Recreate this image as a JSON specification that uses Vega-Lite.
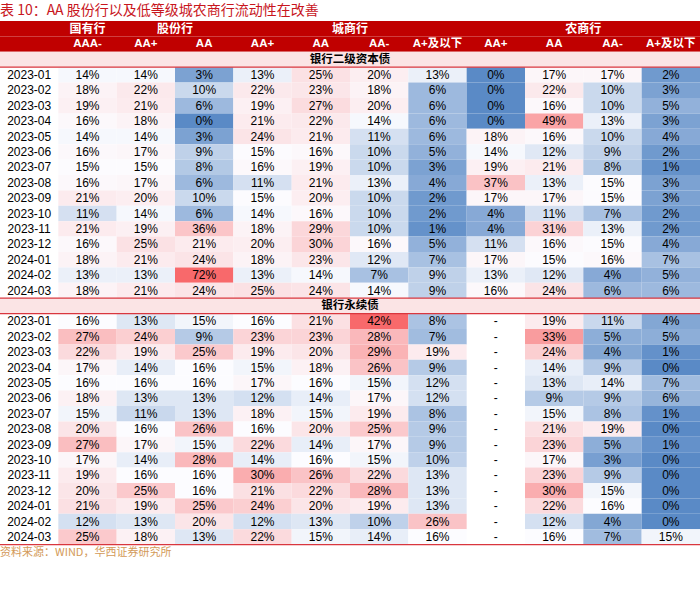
{
  "$schema": "https://vega.github.io/schema/vega-lite/v6.json",
  "width": 700,
  "height": 539,
  "autosize": "none",
  "padding": {"top": 21, "left": 0, "right": 0, "bottom": 33},
  "background": "white",
  "config": {"view": {"stroke": null}, "font": "Liberation Sans"},
  "title": {"text": "表 10：AA 股份行以及低等级城农商行流动性在改善", "anchor": "start", "color": "#c8161d", "font": "Noto Sans CJK SC", "fontSize": 14, "fontWeight": "normal", "offset": 3, "frame": "group"},
  "datasets": {
    "cells": [
      {"s": 1, "r": "a01", "d": "2023-01", "c1": 0.14, "c2": 0.14, "c3": 0.03, "c4": 0.13, "c5": 0.25, "c6": 0.20, "c7": 0.13, "c8": 0, "c9": 0.17, "c10": 0.17, "c11": 0.02},
      {"s": 1, "r": "a02", "d": "2023-02", "c1": 0.18, "c2": 0.22, "c3": 0.10, "c4": 0.22, "c5": 0.23, "c6": 0.18, "c7": 0.06, "c8": 0, "c9": 0.22, "c10": 0.10, "c11": 0.03},
      {"s": 1, "r": "a03", "d": "2023-03", "c1": 0.19, "c2": 0.21, "c3": 0.06, "c4": 0.19, "c5": 0.27, "c6": 0.20, "c7": 0.06, "c8": 0, "c9": 0.16, "c10": 0.10, "c11": 0.05},
      {"s": 1, "r": "a04", "d": "2023-04", "c1": 0.16, "c2": 0.18, "c3": 0, "c4": 0.21, "c5": 0.22, "c6": 0.14, "c7": 0.06, "c8": 0, "c9": 0.49, "c10": 0.13, "c11": 0.03},
      {"s": 1, "r": "a05", "d": "2023-05", "c1": 0.14, "c2": 0.14, "c3": 0.03, "c4": 0.24, "c5": 0.21, "c6": 0.11, "c7": 0.06, "c8": 0.18, "c9": 0.16, "c10": 0.10, "c11": 0.04},
      {"s": 1, "r": "a06", "d": "2023-06", "c1": 0.16, "c2": 0.17, "c3": 0.09, "c4": 0.15, "c5": 0.16, "c6": 0.10, "c7": 0.05, "c8": 0.14, "c9": 0.12, "c10": 0.09, "c11": 0.02},
      {"s": 1, "r": "a07", "d": "2023-07", "c1": 0.15, "c2": 0.15, "c3": 0.08, "c4": 0.16, "c5": 0.19, "c6": 0.10, "c7": 0.03, "c8": 0.19, "c9": 0.21, "c10": 0.08, "c11": 0.01},
      {"s": 1, "r": "a08", "d": "2023-08", "c1": 0.16, "c2": 0.17, "c3": 0.06, "c4": 0.11, "c5": 0.21, "c6": 0.13, "c7": 0.04, "c8": 0.37, "c9": 0.13, "c10": 0.15, "c11": 0.03},
      {"s": 1, "r": "a09", "d": "2023-09", "c1": 0.21, "c2": 0.20, "c3": 0.10, "c4": 0.15, "c5": 0.20, "c6": 0.10, "c7": 0.02, "c8": 0.17, "c9": 0.17, "c10": 0.15, "c11": 0.03},
      {"s": 1, "r": "a10", "d": "2023-10", "c1": 0.11, "c2": 0.14, "c3": 0.06, "c4": 0.14, "c5": 0.16, "c6": 0.10, "c7": 0.02, "c8": 0.04, "c9": 0.11, "c10": 0.07, "c11": 0.02},
      {"s": 1, "r": "a11", "d": "2023-11", "c1": 0.21, "c2": 0.19, "c3": 0.36, "c4": 0.18, "c5": 0.29, "c6": 0.10, "c7": 0.01, "c8": 0.04, "c9": 0.31, "c10": 0.13, "c11": 0.02},
      {"s": 1, "r": "a12", "d": "2023-12", "c1": 0.16, "c2": 0.25, "c3": 0.21, "c4": 0.20, "c5": 0.30, "c6": 0.16, "c7": 0.05, "c8": 0.11, "c9": 0.16, "c10": 0.15, "c11": 0.04},
      {"s": 1, "r": "a13", "d": "2024-01", "c1": 0.18, "c2": 0.21, "c3": 0.24, "c4": 0.18, "c5": 0.23, "c6": 0.12, "c7": 0.07, "c8": 0.17, "c9": 0.15, "c10": 0.16, "c11": 0.07},
      {"s": 1, "r": "a14", "d": "2024-02", "c1": 0.13, "c2": 0.13, "c3": 0.72, "c4": 0.13, "c5": 0.14, "c6": 0.07, "c7": 0.09, "c8": 0.13, "c9": 0.12, "c10": 0.04, "c11": 0.05},
      {"s": 1, "r": "a15", "d": "2024-03", "c1": 0.18, "c2": 0.21, "c3": 0.24, "c4": 0.25, "c5": 0.24, "c6": 0.14, "c7": 0.09, "c8": 0.16, "c9": 0.24, "c10": 0.06, "c11": 0.06},
      {"s": 2, "r": "b01", "d": "2023-01", "c1": 0.16, "c2": 0.13, "c3": 0.15, "c4": 0.16, "c5": 0.21, "c6": 0.42, "c7": 0.08, "c8": null, "c9": 0.19, "c10": 0.11, "c11": 0.04},
      {"s": 2, "r": "b02", "d": "2023-02", "c1": 0.27, "c2": 0.24, "c3": 0.09, "c4": 0.23, "c5": 0.23, "c6": 0.28, "c7": 0.07, "c8": null, "c9": 0.33, "c10": 0.05, "c11": 0.05},
      {"s": 2, "r": "b03", "d": "2023-03", "c1": 0.22, "c2": 0.19, "c3": 0.25, "c4": 0.19, "c5": 0.20, "c6": 0.29, "c7": 0.19, "c8": null, "c9": 0.24, "c10": 0.04, "c11": 0.01},
      {"s": 2, "r": "b04", "d": "2023-04", "c1": 0.17, "c2": 0.14, "c3": 0.16, "c4": 0.15, "c5": 0.18, "c6": 0.26, "c7": 0.09, "c8": null, "c9": 0.14, "c10": 0.09, "c11": 0},
      {"s": 2, "r": "b05", "d": "2023-05", "c1": 0.16, "c2": 0.16, "c3": 0.16, "c4": 0.17, "c5": 0.16, "c6": 0.15, "c7": 0.12, "c8": null, "c9": 0.13, "c10": 0.14, "c11": 0.07},
      {"s": 2, "r": "b06", "d": "2023-06", "c1": 0.18, "c2": 0.13, "c3": 0.13, "c4": 0.12, "c5": 0.14, "c6": 0.17, "c7": 0.12, "c8": null, "c9": 0.09, "c10": 0.09, "c11": 0.06},
      {"s": 2, "r": "b07", "d": "2023-07", "c1": 0.15, "c2": 0.11, "c3": 0.13, "c4": 0.18, "c5": 0.15, "c6": 0.19, "c7": 0.08, "c8": null, "c9": 0.15, "c10": 0.08, "c11": 0.01},
      {"s": 2, "r": "b08", "d": "2023-08", "c1": 0.20, "c2": 0.16, "c3": 0.26, "c4": 0.16, "c5": 0.20, "c6": 0.25, "c7": 0.09, "c8": null, "c9": 0.21, "c10": 0.19, "c11": 0},
      {"s": 2, "r": "b09", "d": "2023-09", "c1": 0.27, "c2": 0.17, "c3": 0.15, "c4": 0.22, "c5": 0.14, "c6": 0.17, "c7": 0.09, "c8": null, "c9": 0.23, "c10": 0.05, "c11": 0.01},
      {"s": 2, "r": "b10", "d": "2023-10", "c1": 0.17, "c2": 0.14, "c3": 0.28, "c4": 0.14, "c5": 0.16, "c6": 0.15, "c7": 0.10, "c8": null, "c9": 0.17, "c10": 0.03, "c11": 0},
      {"s": 2, "r": "b11", "d": "2023-11", "c1": 0.19, "c2": 0.16, "c3": 0.16, "c4": 0.30, "c5": 0.26, "c6": 0.22, "c7": 0.13, "c8": null, "c9": 0.23, "c10": 0.09, "c11": 0},
      {"s": 2, "r": "b12", "d": "2023-12", "c1": 0.20, "c2": 0.25, "c3": 0.16, "c4": 0.21, "c5": 0.22, "c6": 0.28, "c7": 0.13, "c8": null, "c9": 0.30, "c10": 0.15, "c11": 0},
      {"s": 2, "r": "b13", "d": "2024-01", "c1": 0.21, "c2": 0.19, "c3": 0.25, "c4": 0.24, "c5": 0.20, "c6": 0.19, "c7": 0.13, "c8": null, "c9": 0.22, "c10": 0.16, "c11": 0},
      {"s": 2, "r": "b14", "d": "2024-02", "c1": 0.12, "c2": 0.13, "c3": 0.20, "c4": 0.12, "c5": 0.13, "c6": 0.10, "c7": 0.26, "c8": null, "c9": 0.12, "c10": 0.04, "c11": 0},
      {"s": 2, "r": "b15", "d": "2024-03", "c1": 0.25, "c2": 0.18, "c3": 0.13, "c4": 0.22, "c5": 0.15, "c6": 0.14, "c7": 0.16, "c8": null, "c9": 0.16, "c10": 0.07, "c11": 0.15}
    ],
    "sub": [
      {"c": "c1", "t": "AAA-"}, {"c": "c2", "t": "AA+"}, {"c": "c3", "t": "AA"}, {"c": "c4", "t": "AA+"},
      {"c": "c5", "t": "AA"}, {"c": "c6", "t": "AA-"}, {"c": "c7", "t": "A+及以下"}, {"c": "c8", "t": "AA+"},
      {"c": "c9", "t": "AA"}, {"c": "c10", "t": "AA-"}, {"c": "c11", "t": "A+及以下"}
    ],
    "groupMid": [{"c": "c1", "t": "国有行"}],
    "groupEdge": [{"c": "c2", "t": "股份行"}, {"c": "c5", "t": "城商行"}, {"c": "c9", "t": "农商行"}],
    "sections": [{"r": "s1", "t": "银行二级资本债"}, {"r": "s2", "t": "银行永续债"}],
    "headRows": [{"r": "h1"}, {"r": "h2"}],
    "lines": [{"r": "a01"}, {"r": "s2"}, {"r": "b01"}, {"r": "src"}],
    "source": [{"t": "资料来源：WIND，华西证券研究所"}]
  },
  "layer": [
    {
      "data": {"name": "headRows"},
      "mark": {"type": "rect", "color": "#c00000"},
      "encoding": {
        "y": {"field": "r", "type": "nominal", "axis": null, "scale": {"domain": ["h1","h2","s1","a01","a02","a03","a04","a05","a06","a07","a08","a09","a10","a11","a12","a13","a14","a15","s2","b01","b02","b03","b04","b05","b06","b07","b08","b09","b10","b11","b12","b13","b14","b15","src"], "paddingInner": 0, "paddingOuter": 0}}
      }
    },
    {
      "data": {"name": "sections"},
      "mark": {"type": "rect", "color": "#fbe4e5"},
      "encoding": {
        "y": {"field": "r", "type": "nominal", "axis": null, "scale": {"domain": ["h1","h2","s1","a01","a02","a03","a04","a05","a06","a07","a08","a09","a10","a11","a12","a13","a14","a15","s2","b01","b02","b03","b04","b05","b06","b07","b08","b09","b10","b11","b12","b13","b14","b15","src"], "paddingInner": 0, "paddingOuter": 0}}
      }
    },
    {
      "data": {"name": "cells"},
      "transform": [
        {"filter": "datum.s == 1"},
        {"fold": ["c1","c2","c3","c4","c5","c6","c7","c8","c9","c10","c11"], "as": ["c", "v"]},
        {"filter": "datum.v != null"}
      ],
      "mark": {"type": "rect"},
      "encoding": {
        "x": {"field": "c", "type": "nominal", "axis": null, "scale": {"domain": ["c0","c1","c2","c3","c4","c5","c6","c7","c8","c9","c10","c11"], "paddingInner": 0, "paddingOuter": 0}},
        "y": {"field": "r", "type": "nominal", "axis": null, "scale": {"domain": ["h1","h2","s1","a01","a02","a03","a04","a05","a06","a07","a08","a09","a10","a11","a12","a13","a14","a15","s2","b01","b02","b03","b04","b05","b06","b07","b08","b09","b10","b11","b12","b13","b14","b15","src"], "paddingInner": 0, "paddingOuter": 0}},
        "color": {"field": "v", "type": "quantitative", "legend": null, "scale": {"type": "linear", "domain": [0, 0.145, 0.72], "range": ["#5A8AC6", "#FCFCFF", "#F8696B"], "interpolate": "rgb", "clamp": true}}
      }
    },
    {
      "data": {"name": "cells"},
      "transform": [
        {"filter": "datum.s == 2"},
        {"fold": ["c1","c2","c3","c4","c5","c6","c7","c8","c9","c10","c11"], "as": ["c", "v"]},
        {"filter": "datum.v != null"}
      ],
      "mark": {"type": "rect"},
      "encoding": {
        "x": {"field": "c", "type": "nominal", "axis": null, "scale": {"domain": ["c0","c1","c2","c3","c4","c5","c6","c7","c8","c9","c10","c11"], "paddingInner": 0, "paddingOuter": 0}},
        "y": {"field": "r", "type": "nominal", "axis": null, "scale": {"domain": ["h1","h2","s1","a01","a02","a03","a04","a05","a06","a07","a08","a09","a10","a11","a12","a13","a14","a15","s2","b01","b02","b03","b04","b05","b06","b07","b08","b09","b10","b11","b12","b13","b14","b15","src"], "paddingInner": 0, "paddingOuter": 0}},
        "fill": {"field": "v", "type": "quantitative", "legend": null, "scale": {"type": "linear", "domain": [0, 0.16, 0.42], "range": ["#5A8AC6", "#FCFCFF", "#F8696B"], "interpolate": "rgb", "clamp": true}}
      }
    },
    {
      "data": {"name": "cells"},
      "transform": [
        {"fold": ["c1","c2","c3","c4","c5","c6","c7","c8","c9","c10","c11"], "as": ["c", "v"]},
        {"filter": "datum.v != null"}
      ],
      "mark": {"type": "text", "fontSize": 12, "color": "#000000", "font": "Liberation Sans"},
      "encoding": {
        "x": {"field": "c", "type": "nominal", "axis": null, "scale": {"domain": ["c0","c1","c2","c3","c4","c5","c6","c7","c8","c9","c10","c11"], "paddingInner": 0, "paddingOuter": 0}},
        "y": {"field": "r", "type": "nominal", "axis": null, "scale": {"domain": ["h1","h2","s1","a01","a02","a03","a04","a05","a06","a07","a08","a09","a10","a11","a12","a13","a14","a15","s2","b01","b02","b03","b04","b05","b06","b07","b08","b09","b10","b11","b12","b13","b14","b15","src"], "paddingInner": 0, "paddingOuter": 0}},
        "text": {"field": "v", "type": "quantitative", "format": ".0%"}
      }
    },
    {
      "data": {"name": "cells"},
      "transform": [
        {"fold": ["c1","c2","c3","c4","c5","c6","c7","c8","c9","c10","c11"], "as": ["c", "v"]},
        {"filter": "datum.v == null"}
      ],
      "mark": {"type": "text", "fontSize": 12, "color": "#000000", "font": "Liberation Sans"},
      "encoding": {
        "x": {"field": "c", "type": "nominal", "axis": null, "scale": {"domain": ["c0","c1","c2","c3","c4","c5","c6","c7","c8","c9","c10","c11"], "paddingInner": 0, "paddingOuter": 0}},
        "y": {"field": "r", "type": "nominal", "axis": null, "scale": {"domain": ["h1","h2","s1","a01","a02","a03","a04","a05","a06","a07","a08","a09","a10","a11","a12","a13","a14","a15","s2","b01","b02","b03","b04","b05","b06","b07","b08","b09","b10","b11","b12","b13","b14","b15","src"], "paddingInner": 0, "paddingOuter": 0}},
        "text": {"value": "-"}
      }
    },
    {
      "data": {"name": "cells"},
      "mark": {"type": "text", "fontSize": 12, "color": "#000000", "font": "Liberation Sans"},
      "encoding": {
        "x": {"datum": "c0", "type": "nominal", "axis": null, "scale": {"domain": ["c0","c1","c2","c3","c4","c5","c6","c7","c8","c9","c10","c11"], "paddingInner": 0, "paddingOuter": 0}},
        "y": {"field": "r", "type": "nominal", "axis": null, "scale": {"domain": ["h1","h2","s1","a01","a02","a03","a04","a05","a06","a07","a08","a09","a10","a11","a12","a13","a14","a15","s2","b01","b02","b03","b04","b05","b06","b07","b08","b09","b10","b11","b12","b13","b14","b15","src"], "paddingInner": 0, "paddingOuter": 0}},
        "text": {"field": "d", "type": "nominal"}
      }
    },
    {
      "data": {"name": "sub"},
      "mark": {"type": "text", "fontSize": 11.5, "fontWeight": "bold", "color": "#ffffff", "font": "Liberation Sans, Noto Sans CJK SC"},
      "encoding": {
        "x": {"field": "c", "type": "nominal", "axis": null, "scale": {"domain": ["c0","c1","c2","c3","c4","c5","c6","c7","c8","c9","c10","c11"], "paddingInner": 0, "paddingOuter": 0}},
        "y": {"datum": "h2", "type": "nominal", "axis": null, "scale": {"domain": ["h1","h2","s1","a01","a02","a03","a04","a05","a06","a07","a08","a09","a10","a11","a12","a13","a14","a15","s2","b01","b02","b03","b04","b05","b06","b07","b08","b09","b10","b11","b12","b13","b14","b15","src"], "paddingInner": 0, "paddingOuter": 0}},
        "text": {"field": "t", "type": "nominal"}
      }
    },
    {
      "data": {"name": "groupMid"},
      "mark": {"type": "text", "fontSize": 12, "fontWeight": "bold", "color": "#ffffff", "font": "Noto Sans CJK SC"},
      "encoding": {
        "x": {"field": "c", "type": "nominal", "axis": null, "scale": {"domain": ["c0","c1","c2","c3","c4","c5","c6","c7","c8","c9","c10","c11"], "paddingInner": 0, "paddingOuter": 0}},
        "y": {"datum": "h1", "type": "nominal", "axis": null, "scale": {"domain": ["h1","h2","s1","a01","a02","a03","a04","a05","a06","a07","a08","a09","a10","a11","a12","a13","a14","a15","s2","b01","b02","b03","b04","b05","b06","b07","b08","b09","b10","b11","b12","b13","b14","b15","src"], "paddingInner": 0, "paddingOuter": 0}},
        "text": {"field": "t", "type": "nominal"}
      }
    },
    {
      "data": {"name": "groupEdge"},
      "mark": {"type": "text", "fontSize": 12, "fontWeight": "bold", "color": "#ffffff", "font": "Noto Sans CJK SC"},
      "encoding": {
        "x": {"field": "c", "type": "nominal", "bandPosition": 1, "axis": null, "scale": {"domain": ["c0","c1","c2","c3","c4","c5","c6","c7","c8","c9","c10","c11"], "paddingInner": 0, "paddingOuter": 0}},
        "y": {"datum": "h1", "type": "nominal", "axis": null, "scale": {"domain": ["h1","h2","s1","a01","a02","a03","a04","a05","a06","a07","a08","a09","a10","a11","a12","a13","a14","a15","s2","b01","b02","b03","b04","b05","b06","b07","b08","b09","b10","b11","b12","b13","b14","b15","src"], "paddingInner": 0, "paddingOuter": 0}},
        "text": {"field": "t", "type": "nominal"}
      }
    },
    {
      "data": {"name": "sections"},
      "mark": {"type": "text", "fontSize": 11.5, "fontWeight": "bold", "color": "#000000", "font": "Noto Sans CJK SC"},
      "encoding": {
        "x": {"datum": "c5", "type": "nominal", "bandPosition": 1, "axis": null, "scale": {"domain": ["c0","c1","c2","c3","c4","c5","c6","c7","c8","c9","c10","c11"], "paddingInner": 0, "paddingOuter": 0}},
        "y": {"field": "r", "type": "nominal", "axis": null, "scale": {"domain": ["h1","h2","s1","a01","a02","a03","a04","a05","a06","a07","a08","a09","a10","a11","a12","a13","a14","a15","s2","b01","b02","b03","b04","b05","b06","b07","b08","b09","b10","b11","b12","b13","b14","b15","src"], "paddingInner": 0, "paddingOuter": 0}},
        "text": {"field": "t", "type": "nominal"}
      }
    },
    {
      "data": {"name": "lines"},
      "mark": {"type": "rule", "color": "#d9363e", "strokeWidth": 1.2},
      "encoding": {
        "y": {"field": "r", "type": "nominal", "bandPosition": 0, "axis": null, "scale": {"domain": ["h1","h2","s1","a01","a02","a03","a04","a05","a06","a07","a08","a09","a10","a11","a12","a13","a14","a15","s2","b01","b02","b03","b04","b05","b06","b07","b08","b09","b10","b11","b12","b13","b14","b15","src"], "paddingInner": 0, "paddingOuter": 0}}
      }
    },
    {
      "data": {"name": "source"},
      "mark": {"type": "text", "fontSize": 11, "align": "left", "baseline": "top", "dy": 2, "color": "#d39a58", "font": "Noto Sans CJK SC"},
      "encoding": {
        "x": {"datum": "c0", "type": "nominal", "bandPosition": 0, "axis": null, "scale": {"domain": ["c0","c1","c2","c3","c4","c5","c6","c7","c8","c9","c10","c11"], "paddingInner": 0, "paddingOuter": 0}},
        "y": {"datum": "src", "type": "nominal", "bandPosition": 0, "axis": null, "scale": {"domain": ["h1","h2","s1","a01","a02","a03","a04","a05","a06","a07","a08","a09","a10","a11","a12","a13","a14","a15","s2","b01","b02","b03","b04","b05","b06","b07","b08","b09","b10","b11","b12","b13","b14","b15","src"], "paddingInner": 0, "paddingOuter": 0}},
        "text": {"field": "t", "type": "nominal"}
      }
    }
  ],
  "resolve": {"scale": {"color": "independent", "fill": "independent"}}
}
